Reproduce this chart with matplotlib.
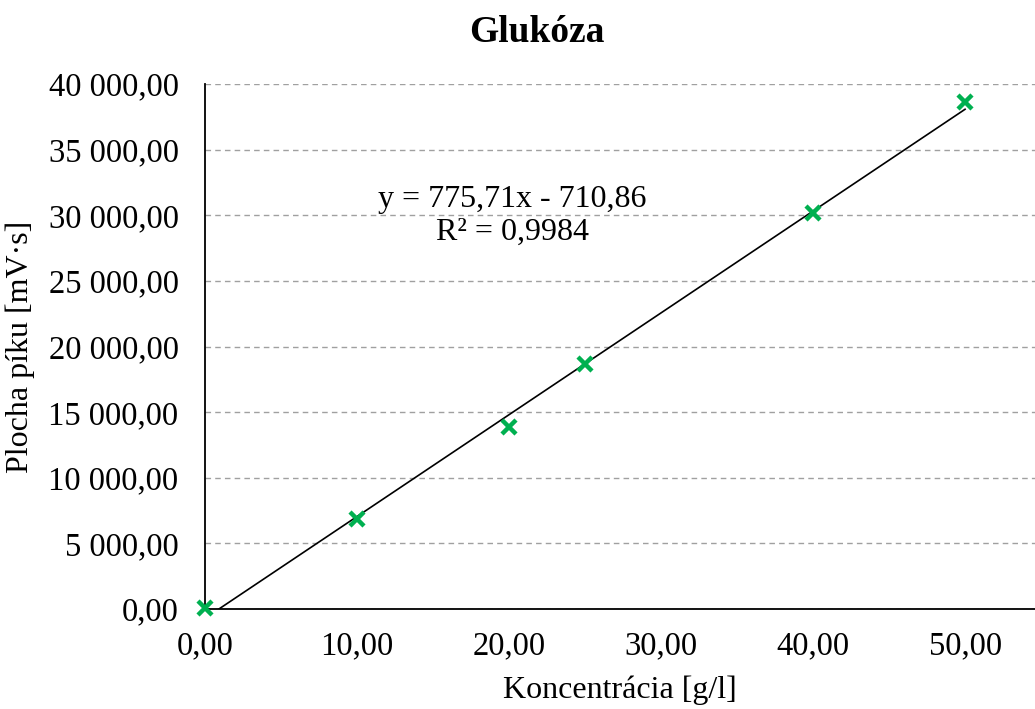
import numpy as np
import matplotlib.pyplot as plt
from matplotlib.ticker import FuncFormatter

plt.rcParams['font.family'] = ['Liberation Serif', 'DejaVu Serif']

# calibration data
konc = [0, 10, 20, 25, 40, 50]
plocha = [40, 6860, 13880, 18680, 30180, 38640]
slope = 775.71
intercept = -710.86
r2 = 0.9984

def fmt(v, pos):
    s = f"{v:,.2f}".replace(",", " ").replace(".", ",")
    return s

fig = plt.figure(figsize=(10.35, 7.09), dpi=100)
ax = fig.add_axes([205/1035, 100/709, 830/1035, 525/709])

ax.set_xlim(0, 54.6)
ax.set_ylim(0, 40000)
ax.set_xticks([0, 10, 20, 30, 40, 50])
ax.set_yticks(np.arange(0, 40001, 5000))
ax.xaxis.set_major_formatter(FuncFormatter(fmt))
ax.yaxis.set_major_formatter(FuncFormatter(fmt))
ax.tick_params(length=0, labelsize=23.5)
ax.tick_params(axis='x', pad=16)
ax.tick_params(axis='y', pad=19)
ax.yaxis.grid(True, linestyle=(0, (4, 3)), color='#a0a0a0', lw=1)
ax.set_axisbelow(True)
for s in ['top', 'right']:
    ax.spines[s].set_visible(False)
for s in ['left', 'bottom']:
    ax.spines[s].set_linewidth(1.3)

# trendline
x0 = -intercept / slope
xt = np.array([x0, 50])
ax.plot(xt, slope * xt + intercept, color='black', lw=1.2)

ax.plot(konc, plocha, linestyle='none', marker='x', color='#00b050',
        markersize=10, markeredgewidth=3.2, clip_on=False, zorder=5)

ax.text(20.2, 29950, f"y = {slope:.2f}x - {-intercept:.2f}".replace(".", ",")
        + "\n" + f"R² = {r2:.4f}".replace(".", ","),
        ha='center', va='center', fontsize=23, linespacing=1.2)

fig.text(537/1035, 1 - 32/709, "Glukóza", ha='center', va='center',
         fontsize=27, fontweight='bold')
ax.set_xlabel("Koncentrácia [g/l]", fontsize=23, labelpad=10)
ax.set_ylabel("Plocha píku [mV·s]", fontsize=23, labelpad=10)

fig.savefig("out.png", dpi=100)
